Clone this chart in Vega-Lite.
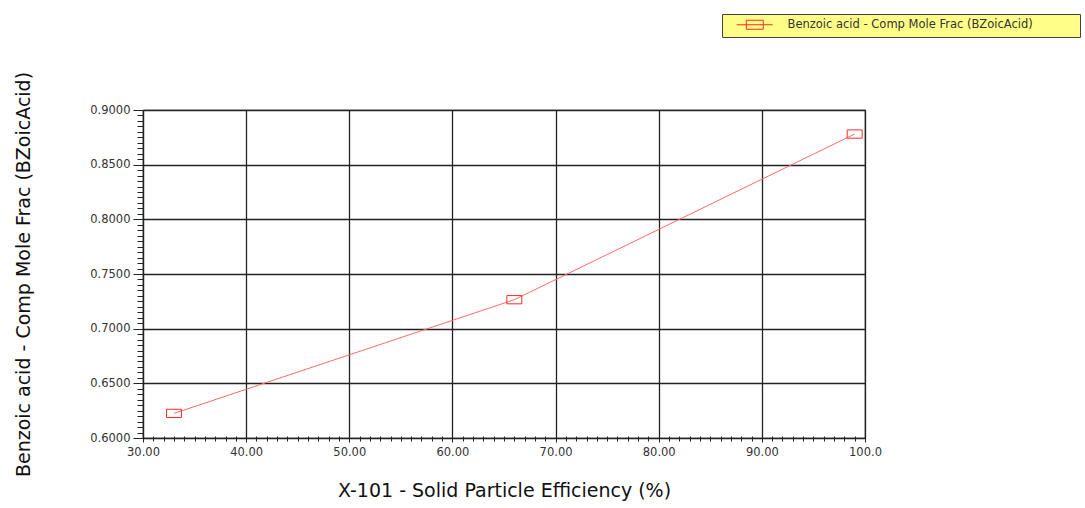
{
  "$schema": "https://vega.github.io/schema/vega-lite/v6.json",
  "width": 722,
  "height": 328,
  "autosize": {"type": "none"},
  "padding": {"left": 143, "top": 110, "right": 220, "bottom": 70},
  "background": "white",
  "config": {
    "view": {"stroke": "#333", "strokeWidth": 1.2},
    "axis": {"labelFont": "DejaVu Sans", "labelFontSize": 11.5, "labelColor": "#333", "labelFlush": false, "titleFont": "DejaVu Sans", "titleFontSize": 19, "titleFontWeight": "normal", "titleColor": "#111"}
  },
  "data": {
    "values": [
      {"eff": 33, "frac": 0.6225, "series": "Benzoic acid - Comp Mole Frac (BZoicAcid)"},
      {"eff": 66, "frac": 0.7265, "series": "Benzoic acid - Comp Mole Frac (BZoicAcid)"},
      {"eff": 99, "frac": 0.878, "series": "Benzoic acid - Comp Mole Frac (BZoicAcid)"}
    ]
  },
  "resolve": {"axis": {"x": "independent", "y": "independent"}},
  "layer": [
    {
      "mark": {"type": "line", "color": "#ff6a6a", "strokeWidth": 1},
      "encoding": {
        "x": {"field": "eff", "type": "quantitative",
          "scale": {"domain": [30, 100], "nice": false, "zero": false},
          "axis": {"title": "X-101 - Solid Particle Efficiency (%)", "values": [30, 40, 50, 60, 70, 80, 90, 100], "format": ".4r", "grid": true, "gridColor": "#222", "gridOpacity": 1, "gridWidth": 1.3, "domainColor": "#222", "domainWidth": 1.2, "tickColor": "#222", "tickSize": 4, "labelPadding": 4, "titlePadding": 24, "orient": "bottom"}},
        "y": {"field": "frac", "type": "quantitative",
          "scale": {"domain": [0.6, 0.9], "nice": false, "zero": false},
          "axis": {"title": "Benzoic acid - Comp Mole Frac (BZoicAcid)", "values": [0.6, 0.65, 0.7, 0.75, 0.8, 0.85, 0.9], "format": ".4f", "grid": true, "gridColor": "#222", "gridOpacity": 1, "gridWidth": 1.3, "domainColor": "#222", "domainWidth": 1.2, "tickColor": "#222", "tickSize": 10, "labelPadding": 3, "titlePadding": 56, "orient": "left"}}
      }
    },
    {
      "mark": {"type": "point", "filled": false, "strokeWidth": 1, "size": 225, "shape": "M-1,-0.55H1V0.55H-1Z", "opacity": 1},
      "encoding": {
        "x": {"field": "eff", "type": "quantitative",
          "axis": {"title": null, "orient": "bottom", "labels": false, "domain": false, "grid": false, "tickColor": "#222", "tickSize": 5, "offset": -2,
            "values": [31,32,33,34,35,36,37,38,39,41,42,43,44,45,46,47,48,49,51,52,53,54,55,56,57,58,59,61,62,63,64,65,66,67,68,69,71,72,73,74,75,76,77,78,79,81,82,83,84,85,86,87,88,89,91,92,93,94,95,96,97,98,99]}},
        "y": {"field": "frac", "type": "quantitative",
          "axis": {"title": null, "orient": "left", "labels": false, "domain": false, "grid": false, "tickColor": "#222", "tickSize": 6,
            "values": [0.605,0.61,0.615,0.62,0.625,0.63,0.635,0.64,0.645,0.655,0.66,0.665,0.67,0.675,0.68,0.685,0.69,0.695,0.705,0.71,0.715,0.72,0.725,0.73,0.735,0.74,0.745,0.755,0.76,0.765,0.77,0.775,0.78,0.785,0.79,0.795,0.805,0.81,0.815,0.82,0.825,0.83,0.835,0.84,0.845,0.855,0.86,0.865,0.87,0.875,0.88,0.885,0.89,0.895]}},
        "color": {"field": "series", "type": "nominal",
          "scale": {"range": ["#ff2a2a"]},
          "legend": {"title": null, "orient": "none", "legendX": 579, "legendY": -96, "fillColor": "#ffff88", "strokeColor": "#444", "padding": 5,
            "symbolType": "M-3.6,0H3.6M-1.7,-0.9H1.7V0.9H-1.7Z", "symbolSize": 100, "symbolStrokeWidth": 1, "symbolFillColor": "transparent", "symbolStrokeColor": "#ff2a2a", "symbolOffset": 22,
            "labelOffset": 27, "labelFont": "DejaVu Sans", "labelFontSize": 11.5, "labelColor": "#333", "labelLimit": 500,
            "labelExpr": "datum.label + '\u2800\u2800\u2800\u2800\u2800'"}}
      }
    }
  ]
}
